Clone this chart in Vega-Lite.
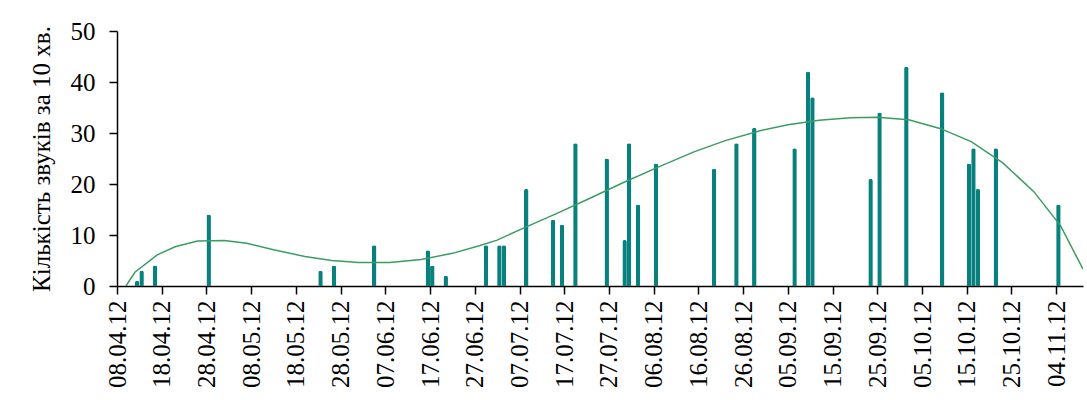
{
  "$schema": "https://vega.github.io/schema/vega-lite/v6.json",
  "width": 966,
  "height": 255,
  "autosize": "none",
  "padding": {"left": 117, "top": 31, "right": 4, "bottom": 114},
  "background": "white",
  "config": {
    "view": {"stroke": null},
    "font": "Liberation Serif",
    "axis": {
      "grid": false,
      "domainColor": "black",
      "tickColor": "black",
      "labelColor": "black",
      "titleColor": "black",
      "labelFont": "Liberation Serif",
      "titleFont": "Liberation Serif",
      "labelFontSize": 25,
      "titleFontSize": 25,
      "titleFontWeight": "normal",
      "tickSize": 8,
      "domainWidth": 1.5,
      "tickWidth": 1.5
    }
  },
  "datasets": {
    "bars": [
      {"date": "2012-04-12", "count": 1},
      {"date": "2012-04-13", "count": 3},
      {"date": "2012-04-16", "count": 4},
      {"date": "2012-04-28", "count": 14},
      {"date": "2012-05-23", "count": 3},
      {"date": "2012-05-26", "count": 4},
      {"date": "2012-06-04", "count": 8},
      {"date": "2012-06-16", "count": 7},
      {"date": "2012-06-17", "count": 4},
      {"date": "2012-06-20", "count": 2},
      {"date": "2012-06-29", "count": 8},
      {"date": "2012-07-02", "count": 8},
      {"date": "2012-07-03", "count": 8},
      {"date": "2012-07-08", "count": 19},
      {"date": "2012-07-14", "count": 13},
      {"date": "2012-07-16", "count": 12},
      {"date": "2012-07-19", "count": 28},
      {"date": "2012-07-26", "count": 25},
      {"date": "2012-07-30", "count": 9},
      {"date": "2012-07-31", "count": 28},
      {"date": "2012-08-02", "count": 16},
      {"date": "2012-08-06", "count": 24},
      {"date": "2012-08-19", "count": 23},
      {"date": "2012-08-24", "count": 28},
      {"date": "2012-08-28", "count": 31},
      {"date": "2012-09-06", "count": 27},
      {"date": "2012-09-09", "count": 42},
      {"date": "2012-09-10", "count": 37},
      {"date": "2012-09-23", "count": 21},
      {"date": "2012-09-25", "count": 34},
      {"date": "2012-10-01", "count": 43},
      {"date": "2012-10-09", "count": 38},
      {"date": "2012-10-15", "count": 24},
      {"date": "2012-10-16", "count": 27},
      {"date": "2012-10-17", "count": 19},
      {"date": "2012-10-21", "count": 27},
      {"date": "2012-11-04", "count": 16}
    ],
    "trend": [
      {"date": "2012-04-10", "value": 0.0},
      {"date": "2012-04-12", "value": 2.7},
      {"date": "2012-04-17", "value": 6.1},
      {"date": "2012-04-21", "value": 7.7},
      {"date": "2012-04-26", "value": 8.8},
      {"date": "2012-05-02", "value": 8.9},
      {"date": "2012-05-07", "value": 8.4},
      {"date": "2012-05-13", "value": 7.1},
      {"date": "2012-05-20", "value": 5.8},
      {"date": "2012-05-26", "value": 5.0},
      {"date": "2012-06-01", "value": 4.6},
      {"date": "2012-06-08", "value": 4.6},
      {"date": "2012-06-15", "value": 5.2},
      {"date": "2012-06-22", "value": 6.4},
      {"date": "2012-06-28", "value": 7.9},
      {"date": "2012-07-02", "value": 9.0},
      {"date": "2012-07-08", "value": 11.4},
      {"date": "2012-07-15", "value": 14.1},
      {"date": "2012-07-23", "value": 17.3},
      {"date": "2012-07-30", "value": 20.2},
      {"date": "2012-08-07", "value": 23.3},
      {"date": "2012-08-15", "value": 26.3},
      {"date": "2012-08-22", "value": 28.5},
      {"date": "2012-08-30", "value": 30.5},
      {"date": "2012-09-05", "value": 31.6},
      {"date": "2012-09-12", "value": 32.5},
      {"date": "2012-09-19", "value": 33.0},
      {"date": "2012-09-25", "value": 33.1},
      {"date": "2012-10-02", "value": 32.6},
      {"date": "2012-10-09", "value": 30.9},
      {"date": "2012-10-16", "value": 28.3},
      {"date": "2012-10-23", "value": 24.2},
      {"date": "2012-10-30", "value": 18.5},
      {"date": "2012-11-05", "value": 11.8},
      {"date": "2012-11-10", "value": 3.3}
    ]
  },
  "layer": [
    {
      "data": {"name": "bars"},
      "mark": {"type": "bar", "color": "#08807e", "cornerRadiusEnd": 2, "width": 4.5},
      "encoding": {
        "x": {
          "field": "date",
          "type": "temporal",
          "timeUnit": "utcyearmonthdate",
          "bandPosition": 0.5,
          "scale": {
            "type": "utc",
            "domain": [
              {"year": 2012, "month": 4, "date": 8, "utc": true},
              {"year": 2012, "month": 11, "date": 10, "utc": true}
            ]
          },
          "axis": {
            "title": null,
            "format": "%d.%m.%y",
            "labelAngle": -90,
            "labelPadding": 6,
            "labelFlush": false,
            "labelOverlap": false,
            "values": [
              {"year": 2012, "month": 4, "date": 8, "utc": true},
              {"year": 2012, "month": 4, "date": 18, "utc": true},
              {"year": 2012, "month": 4, "date": 28, "utc": true},
              {"year": 2012, "month": 5, "date": 8, "utc": true},
              {"year": 2012, "month": 5, "date": 18, "utc": true},
              {"year": 2012, "month": 5, "date": 28, "utc": true},
              {"year": 2012, "month": 6, "date": 7, "utc": true},
              {"year": 2012, "month": 6, "date": 17, "utc": true},
              {"year": 2012, "month": 6, "date": 27, "utc": true},
              {"year": 2012, "month": 7, "date": 7, "utc": true},
              {"year": 2012, "month": 7, "date": 17, "utc": true},
              {"year": 2012, "month": 7, "date": 27, "utc": true},
              {"year": 2012, "month": 8, "date": 6, "utc": true},
              {"year": 2012, "month": 8, "date": 16, "utc": true},
              {"year": 2012, "month": 8, "date": 26, "utc": true},
              {"year": 2012, "month": 9, "date": 5, "utc": true},
              {"year": 2012, "month": 9, "date": 15, "utc": true},
              {"year": 2012, "month": 9, "date": 25, "utc": true},
              {"year": 2012, "month": 10, "date": 5, "utc": true},
              {"year": 2012, "month": 10, "date": 15, "utc": true},
              {"year": 2012, "month": 10, "date": 25, "utc": true},
              {"year": 2012, "month": 11, "date": 4, "utc": true}
            ]
          }
        },
        "y": {
          "field": "count",
          "type": "quantitative",
          "scale": {"domain": [0, 50]},
          "axis": {
            "title": "Кількість звуків за 10 хв.",
            "values": [0, 10, 20, 30, 40, 50],
            "labelPadding": 14,
            "titlePadding": 16,
            "labelFlush": false
          }
        }
      }
    },
    {
      "data": {"name": "trend"},
      "mark": {"type": "line", "color": "#3a9d62", "strokeWidth": 1.5, "clip": true},
      "encoding": {
        "x": {"field": "date", "type": "temporal"},
        "y": {"field": "value", "type": "quantitative"}
      }
    }
  ]
}
